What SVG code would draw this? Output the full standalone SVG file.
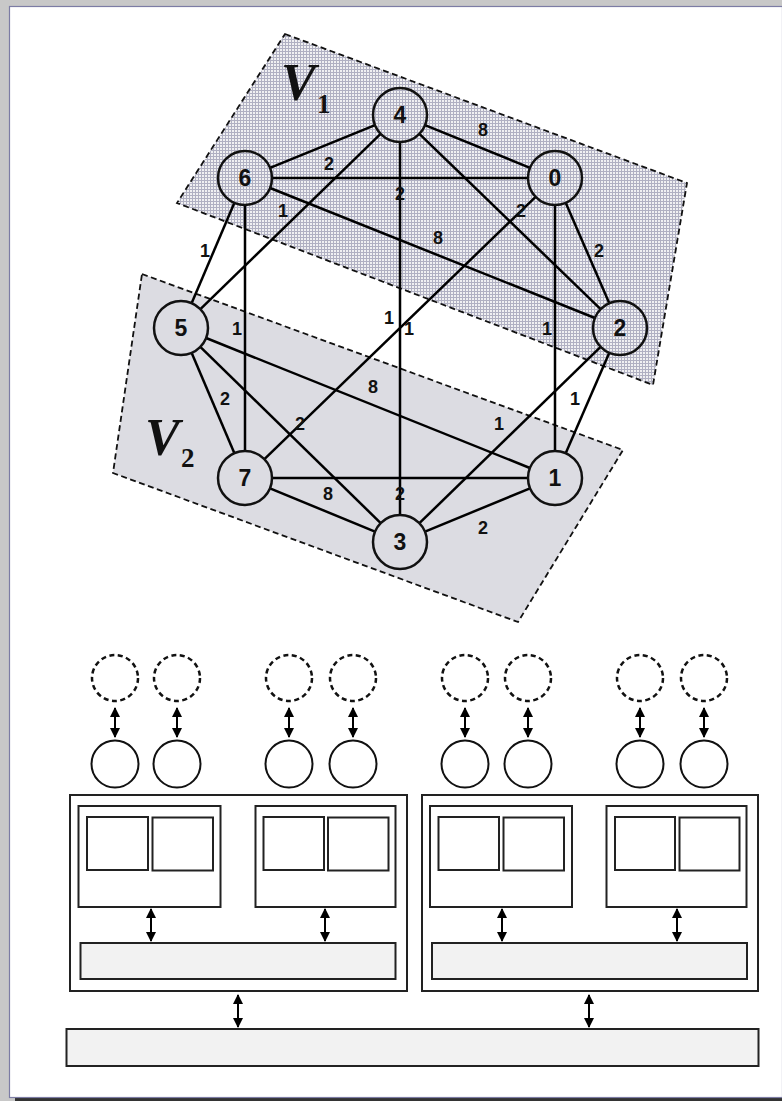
<svg xmlns="http://www.w3.org/2000/svg" width="782" height="1101" viewBox="0 0 782 1101">
<defs>
<pattern id="mesh" patternUnits="userSpaceOnUse" x="0" y="0" width="3" height="3">
<rect width="3" height="3" fill="#f0f0f2"/>
<rect width="3" height="1" fill="#b0b0c2"/>
<rect width="1" height="3" fill="#b0b0c2"/>
</pattern>
<marker id="ah" viewBox="0 0 10 10" refX="9" refY="5" markerWidth="5" markerHeight="5" orient="auto-start-reverse" markerUnits="strokeWidth">
<path d="M0,0 L10,5 L0,10 Z" fill="#000"/>
</marker>
<style>
.edge{stroke:#000;stroke-width:2.5;fill:none}
.node{fill:none;stroke:#111;stroke-width:2.5}
.nl{font-family:"Liberation Sans",Arial,sans-serif;font-weight:bold;font-size:23px;text-anchor:middle;fill:#111}
.el{font-family:"Liberation Sans",Arial,sans-serif;font-weight:bold;font-size:18px;text-anchor:middle;fill:#111}
.region{stroke:#111;stroke-width:1.8;stroke-dasharray:6 3.5}
.vl{font-family:"Liberation Serif","Times New Roman",serif;font-weight:bold;fill:#111}
.dc{fill:none;stroke:#111;stroke-width:2.5;stroke-dasharray:5 3.5}
.sc{fill:#fff;stroke:#111;stroke-width:2}
.box{fill:#fff;stroke:#222;stroke-width:2}
.bar{fill:#f2f2f2;stroke:#222;stroke-width:2}
.arr{stroke:#000;stroke-width:2;marker-start:url(#ah);marker-end:url(#ah)}
</style>
</defs>
<rect x="0" y="0" width="782" height="1101" fill="#c8c8c8"/>
<rect x="15" y="1098" width="767" height="3" fill="#333"/>
<rect x="9.5" y="6.5" width="773" height="1091" fill="#fff" stroke="#7c7ca4" stroke-width="1.2"/>

<g id="region-V2">
<polygon class="region" points="142,274 623,450 518,622 113,473" fill="#dcdce2"/>
<text class="vl" x="145" y="455" font-size="52" font-style="italic">V</text>
<text class="vl" x="181" y="467" font-size="27">2</text>
</g>
<g id="region-V1">
<polygon class="region" points="285,34 687,183 653,385 177,203" fill="url(#mesh)"/>
<text class="vl" x="281" y="100" font-size="52" font-style="italic">V</text>
<text class="vl" x="317" y="113" font-size="27">1</text>
</g>

<g id="connectors">
<line class="edge" x1="375" y1="125.2" x2="270" y2="167.8"/>
<line class="edge" x1="425" y1="125.2" x2="530" y2="167.8"/>
<line class="edge" x1="400" y1="142" x2="400" y2="515"/>
<line class="edge" x1="419.4" y1="133.8" x2="600.6" y2="309.2"/>
<line class="edge" x1="380.6" y1="133.8" x2="200.4" y2="309.2"/>
<line class="edge" x1="272" y1="178" x2="528" y2="178"/>
<line class="edge" x1="270.1" y1="188" x2="594.9" y2="318"/>
<line class="edge" x1="234.4" y1="202.8" x2="191.6" y2="303.2"/>
<line class="edge" x1="245" y1="205" x2="245" y2="451"/>
<line class="edge" x1="535.6" y1="196.8" x2="264.4" y2="459.2"/>
<line class="edge" x1="555" y1="205" x2="555" y2="451"/>
<line class="edge" x1="565.7" y1="202.8" x2="609.3" y2="303.2"/>
<line class="edge" x1="609.3" y1="352.8" x2="565.7" y2="453.2"/>
<line class="edge" x1="600.6" y1="346.8" x2="419.4" y2="523.2"/>
<line class="edge" x1="206.1" y1="338" x2="529.9" y2="468"/>
<line class="edge" x1="191.6" y1="352.8" x2="234.4" y2="453.2"/>
<line class="edge" x1="200.3" y1="346.9" x2="380.7" y2="523.1"/>
<line class="edge" x1="272" y1="478" x2="528" y2="478"/>
<line class="edge" x1="270" y1="488.3" x2="375" y2="531.7"/>
<line class="edge" x1="425" y1="531.7" x2="530" y2="488.3"/>
<g id="edge-labels">
<text class="el" x="329" y="169.5">2</text>
<text class="el" x="483" y="135.5">8</text>
<text class="el" x="400" y="199.5">2</text>
<text class="el" x="283" y="216.5">1</text>
<text class="el" x="438" y="243.5">8</text>
<text class="el" x="521" y="216.5">2</text>
<text class="el" x="599" y="256.5">2</text>
<text class="el" x="205" y="256.5">1</text>
<text class="el" x="389" y="323.5">1</text>
<text class="el" x="409" y="334.5">1</text>
<text class="el" x="547" y="334.5">1</text>
<text class="el" x="237" y="334.5">1</text>
<text class="el" x="373" y="392.5">8</text>
<text class="el" x="575" y="404.5">1</text>
<text class="el" x="225" y="404.5">2</text>
<text class="el" x="300" y="429.5">2</text>
<text class="el" x="499" y="429.5">1</text>
<text class="el" x="328" y="499.5">8</text>
<text class="el" x="400" y="499.5">2</text>
<text class="el" x="483" y="533.5">2</text>
</g>
</g>

<g id="node-0"><circle class="node" cx="555" cy="178" r="27"/><text class="nl" x="555" y="186.3">0</text></g>
<g id="node-1"><circle class="node" cx="555" cy="478" r="27"/><text class="nl" x="555" y="486.3">1</text></g>
<g id="node-2"><circle class="node" cx="620" cy="328" r="27"/><text class="nl" x="620" y="336.3">2</text></g>
<g id="node-3"><circle class="node" cx="400" cy="542" r="27"/><text class="nl" x="400" y="550.3">3</text></g>
<g id="node-4"><circle class="node" cx="400" cy="115" r="27"/><text class="nl" x="400" y="123.3">4</text></g>
<g id="node-5"><circle class="node" cx="181" cy="328" r="27"/><text class="nl" x="181" y="336.3">5</text></g>
<g id="node-6"><circle class="node" cx="245" cy="178" r="27"/><text class="nl" x="245" y="186.3">6</text></g>
<g id="node-7"><circle class="node" cx="245" cy="478" r="27"/><text class="nl" x="245" y="486.3">7</text></g>

<g id="virtual-procs">
<circle class="dc" cx="115" cy="678" r="23"/>
<circle class="dc" cx="177" cy="678" r="23"/>
<circle class="dc" cx="289" cy="678" r="23"/>
<circle class="dc" cx="353" cy="678" r="23"/>
<circle class="dc" cx="465" cy="678" r="23"/>
<circle class="dc" cx="528" cy="678" r="23"/>
<circle class="dc" cx="640" cy="678" r="23"/>
<circle class="dc" cx="704" cy="678" r="23"/>
</g>
<g id="procs">
<circle class="sc" cx="115" cy="764" r="23.5"/>
<circle class="sc" cx="177" cy="764" r="23.5"/>
<circle class="sc" cx="289" cy="764" r="23.5"/>
<circle class="sc" cx="353" cy="764" r="23.5"/>
<circle class="sc" cx="465" cy="764" r="23.5"/>
<circle class="sc" cx="528" cy="764" r="23.5"/>
<circle class="sc" cx="640" cy="764" r="23.5"/>
<circle class="sc" cx="704" cy="764" r="23.5"/>
</g>
<g id="node-left">
<rect class="box" x="70" y="795" width="337" height="196"/>
<rect class="box" x="78.5" y="806" width="142" height="101"/>
<rect class="box" x="87" y="817" width="61" height="53"/>
<rect class="box" x="152.5" y="817.5" width="60.5" height="53"/>
<rect class="box" x="255.5" y="806" width="140" height="101"/>
<rect class="box" x="263.5" y="817" width="60.5" height="53"/>
<rect class="box" x="328" y="817.5" width="60.5" height="53"/>
<rect class="bar" x="80.5" y="943" width="315" height="36"/>
</g>
<g id="node-right">
<rect class="box" x="422" y="795" width="336" height="196"/>
<rect class="box" x="430" y="806" width="142" height="101"/>
<rect class="box" x="438.5" y="817" width="60.5" height="53"/>
<rect class="box" x="503.5" y="817.5" width="60.5" height="53"/>
<rect class="box" x="606.5" y="806" width="140" height="101"/>
<rect class="box" x="615" y="817" width="60" height="53"/>
<rect class="box" x="679.5" y="817.5" width="60" height="53"/>
<rect class="bar" x="432" y="943" width="315" height="36"/>
</g>
<g id="network">
<rect class="bar" x="66.5" y="1029" width="692" height="37"/>
</g>
<g id="hw-connectors">
<line class="arr" x1="115" y1="708" x2="115" y2="737"/>
<line class="arr" x1="177" y1="708" x2="177" y2="737"/>
<line class="arr" x1="289" y1="708" x2="289" y2="737"/>
<line class="arr" x1="353" y1="708" x2="353" y2="737"/>
<line class="arr" x1="465" y1="708" x2="465" y2="737"/>
<line class="arr" x1="528" y1="708" x2="528" y2="737"/>
<line class="arr" x1="640" y1="708" x2="640" y2="737"/>
<line class="arr" x1="704" y1="708" x2="704" y2="737"/>
<line class="arr" x1="151" y1="909" x2="151" y2="941"/>
<line class="arr" x1="325" y1="909" x2="325" y2="941"/>
<line class="arr" x1="502" y1="909" x2="502" y2="941"/>
<line class="arr" x1="677" y1="909" x2="677" y2="941"/>
<line class="arr" x1="238" y1="995" x2="238" y2="1027"/>
<line class="arr" x1="589" y1="995" x2="589" y2="1027"/>
</g>
</svg>
